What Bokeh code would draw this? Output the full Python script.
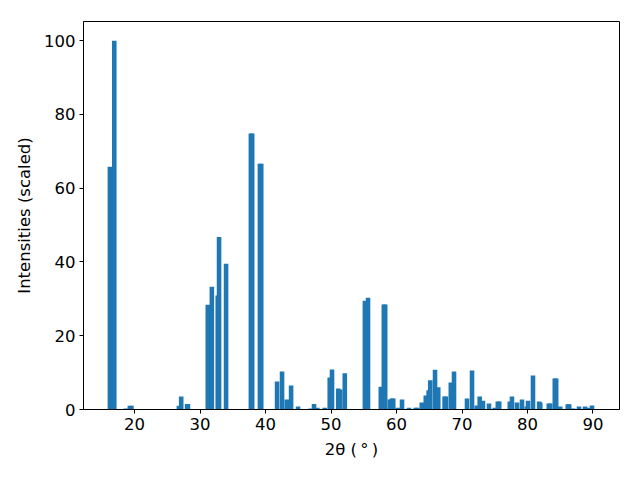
from bokeh.plotting import figure
from bokeh.models import Range1d, FixedTicker
from bokeh.embed import file_html
from bokeh.resources import INLINE

# 2theta peak positions (degrees) and scaled intensities
two_theta = [16.23, 16.90, 18.67, 19.28, 19.52, 26.77, 27.12, 28.02, 28.15,
             31.18, 31.80, 32.70, 32.90, 33.97, 37.76, 37.96, 39.14, 39.34,
             41.76, 42.52, 43.24, 43.90, 44.96, 46.90, 47.40, 47.90, 49.04,
             49.80, 50.15, 51.10, 51.40, 52.10, 55.17, 55.65, 57.60, 58.06,
             58.27, 58.98, 59.28, 59.50, 60.20, 60.84, 61.90, 62.93, 63.15,
             63.86, 64.47, 64.90, 65.15, 65.88, 66.37, 67.34, 67.55, 68.29,
             68.78, 70.76, 71.53, 72.26, 72.70, 73.20, 74.12, 75.00, 75.47,
             75.68, 77.30, 77.63, 78.40, 79.16, 79.89, 80.08, 80.84, 81.95,
             81.78, 83.25, 83.46, 84.17, 84.38, 85.00, 86.15, 86.37, 86.97,
             87.86, 88.78, 89.30, 89.85]
intensity = [65.8, 100.0, 0.3, 1.0, 1.0, 1.0, 3.5, 1.5, 1.5,
             28.4, 33.3, 30.9, 46.8, 39.5, 74.8, 74.8, 66.6, 66.6,
             7.6, 10.3, 2.7, 6.5, 0.8, 0.3, 1.5, 0.5, 0.5,
             8.7, 10.85, 5.7, 5.4, 9.8, 29.5, 30.3, 6.2, 28.5,
             28.5, 2.7, 3.0, 3.0, 0.5, 2.7, 0.5, 0.5, 0.5,
             1.9, 3.8, 5.2, 7.9, 10.8, 6.0, 3.5, 3.5, 7.3,
             10.3, 3.0, 10.6, 1.1, 3.5, 2.4, 1.6, 0.5, 2.2,
             2.2, 2.2, 3.5, 1.9, 2.7, 0.8, 2.4, 9.2, 1.9,
             2.2, 1.6, 1.6, 8.4, 8.4, 0.8, 1.4, 1.4, 0.3,
             0.8, 0.8, 0.5, 1.1]

x_ticks = [20, 30, 40, 50, 60, 70, 80, 90]
y_ticks = [0, 20, 40, 60, 80, 100]

p = figure(width=640, height=480, output_backend="svg", toolbar_location=None,
           x_range=Range1d(12.2, 94.05), y_range=Range1d(0, 105.2),
           min_border_left=83, min_border_right=21, min_border_top=21,
           min_border_bottom=71)

p.vbar(x=two_theta, top=intensity, width=0.7, bottom=0,
       fill_color="#1f77b4", line_color=None)

p.xgrid.visible = False
p.ygrid.visible = False
p.outline_line_color = "black"
p.outline_line_width = 1
p.background_fill_color = "white"
p.border_fill_color = "white"

for ax in (p.xaxis[0], p.yaxis[0]):
    ax.major_label_text_font = "DejaVu Sans"
    ax.major_label_text_font_size = "16.5px"
    ax.major_label_text_color = "black"
    ax.axis_label_text_font = "DejaVu Sans"
    ax.axis_label_text_font_size = "16.5px"
    ax.axis_label_text_font_style = "normal"
    ax.axis_label_text_color = "black"
    ax.axis_line_color = "black"
    ax.major_tick_line_color = "black"
    ax.major_tick_out = 4
    ax.major_tick_in = 0
    ax.minor_tick_line_color = None
    ax.major_label_standoff = 4

p.xaxis[0].ticker = FixedTicker(ticks=x_ticks)
p.yaxis[0].ticker = FixedTicker(ticks=y_ticks)
p.xaxis[0].axis_label = "2θ (\u2009°\u2009)"
p.yaxis[0].axis_label = "Intensities (scaled)"
p.xaxis[0].axis_label_standoff = 7
p.yaxis[0].axis_label_standoff = 7

open("out.html", "w").write(file_html(p, INLINE))
